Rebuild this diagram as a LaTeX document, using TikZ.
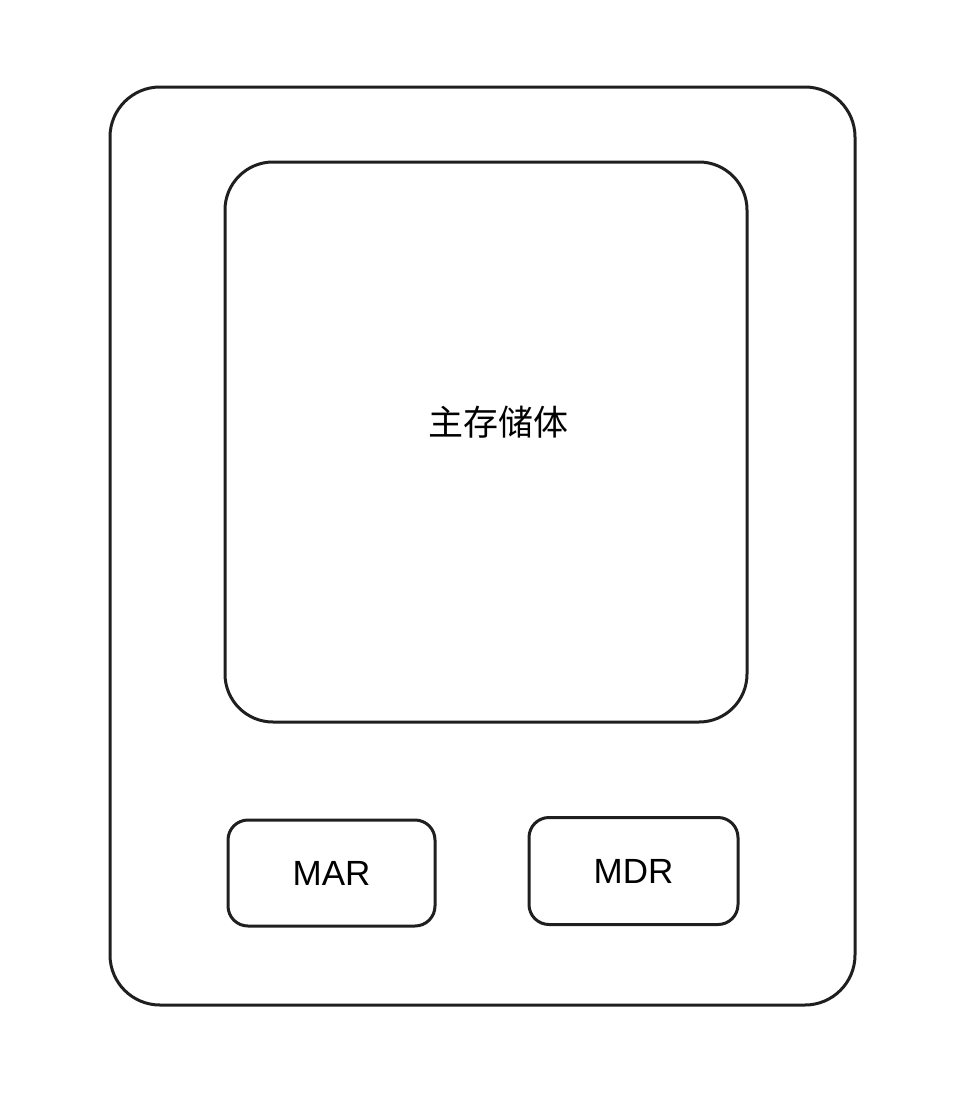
\documentclass[tikz,border=0pt]{standalone}
\usepackage{fontspec}
\setmainfont{Liberation Sans}
\newfontfamily\cjk{Noto Sans CJK SC}
\tikzset{
  sketchbox/.style={draw=black!88, line width=3pt, rounded corners=#1, inner sep=0pt},
  sketchbox/.default=20pt
}
\begin{document}
\begin{tikzpicture}[x=1pt, y=-1pt, every node/.style={font=\fontsize{35}{40}\selectfont}]
\useasboundingbox (0,0) rectangle (968,1101);

\node[sketchbox=50pt, minimum width=745pt, minimum height=918pt] (memory) at (482.5,546) {};

\node[sketchbox=48pt, minimum width=522pt, minimum height=560pt] (storage) at (486,442) {};
\node (storagetext) at (498,422) {\cjk 主存储体};

\node[sketchbox, minimum width=207pt, minimum height=106pt] (mar) at (331.5,873)
{MAR};

\node[sketchbox, minimum width=209pt, minimum height=107pt] (mdr) at (633.5,871)
{MDR};
\end{tikzpicture}
\end{document}
